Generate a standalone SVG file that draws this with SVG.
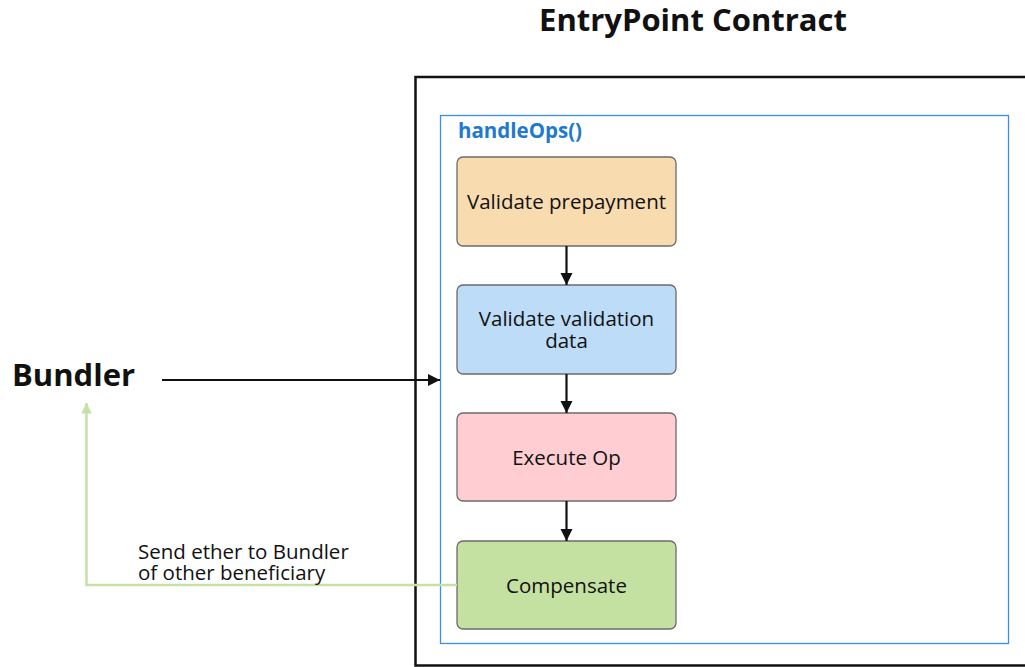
<svg xmlns="http://www.w3.org/2000/svg" width="1025" height="667" viewBox="0 0 1025 667">
  <defs>
    <style>
      .label { font-family: "Open Sans", "Noto Sans", sans-serif; fill: #111; }
      .step { stroke: #6b6b6b; stroke-width: 1.3; }
      .flow { stroke: #111; stroke-width: 2.2; fill: none; }
    </style>
    <marker id="ah" viewBox="0 0 10 10" refX="10" refY="5" markerWidth="5.5" markerHeight="5.8" orient="auto" markerUnits="strokeWidth">
      <path d="M0,0 L10,5 L0,10 z" fill="#111"/>
    </marker>
    <marker id="ahg" viewBox="0 0 10 10" refX="10" refY="5" markerWidth="4.2" markerHeight="5" orient="auto" markerUnits="strokeWidth">
      <path d="M0,0 L10,5 L0,10 z" fill="#c5e1a5"/>
    </marker>
  </defs>
  <rect width="1025" height="667" fill="#ffffff"/>

  <!-- EntryPoint contract container -->
  <g id="entrypoint">
    <text x="693" y="31" text-anchor="middle" class="label" font-size="31" font-weight="700">EntryPoint Contract</text>
    <path d="M1025,77 H415.5 V665.5 H1025" fill="none" stroke="#111" stroke-width="2.5"/>
  </g>

  <!-- handleOps() frame -->
  <g id="handleOps">
    <rect x="440.5" y="115.5" width="568" height="528" fill="none" stroke="#3a8ee6" stroke-width="1.3"/>
    <text x="458" y="138" font-family="'Open Sans', 'Noto Sans', sans-serif" font-size="20.5" font-weight="700" fill="#1f78d1">handleOps()</text>
  </g>

  <g id="bundler">
    <text x="12" y="386" class="label" font-size="31" font-weight="700">Bundler</text>
  </g>

  <g id="validate-prepayment">
    <rect class="step" x="457" y="157" width="219" height="89" rx="6" fill="#f8dcb0"/>
    <text x="566.5" y="209" text-anchor="middle" class="label" font-size="20.5">Validate prepayment</text>
  </g>

  <g id="validate-validation-data">
    <rect class="step" x="457" y="285" width="219" height="89" rx="6" fill="#bcdcf7"/>
    <text x="566.5" y="326" text-anchor="middle" class="label" font-size="20.5">Validate validation</text>
    <text x="566.5" y="348" text-anchor="middle" class="label" font-size="20.5">data</text>
  </g>

  <g id="execute-op">
    <rect class="step" x="457" y="413" width="219" height="88" rx="6" fill="#ffcdd2"/>
    <text x="566.5" y="465" text-anchor="middle" class="label" font-size="20.5">Execute Op</text>
  </g>

  <g id="compensate">
    <rect class="step" x="457" y="541" width="219" height="88" rx="6" fill="#c5e1a2"/>
    <text x="566.5" y="593" text-anchor="middle" class="label" font-size="20.5">Compensate</text>
  </g>

  <!-- connectors -->
  <g id="connectors">
    <line class="flow" x1="566.5" y1="246" x2="566.5" y2="285" marker-end="url(#ah)"/>
    <line class="flow" x1="566.5" y1="374" x2="566.5" y2="413" marker-end="url(#ah)"/>
    <line class="flow" x1="566.5" y1="501" x2="566.5" y2="541" marker-end="url(#ah)"/>
    <line class="flow" x1="162" y1="380" x2="440" y2="380" marker-end="url(#ah)"/>
    <path d="M457,585 H86.5 V403" fill="none" stroke="#c5e1a5" stroke-width="2.5" marker-end="url(#ahg)"/>
    <text x="138" y="558.5" class="label" font-size="20.5">Send ether to Bundler</text>
    <text x="138" y="580" class="label" font-size="20.5">of other beneficiary</text>
  </g>
</svg>
